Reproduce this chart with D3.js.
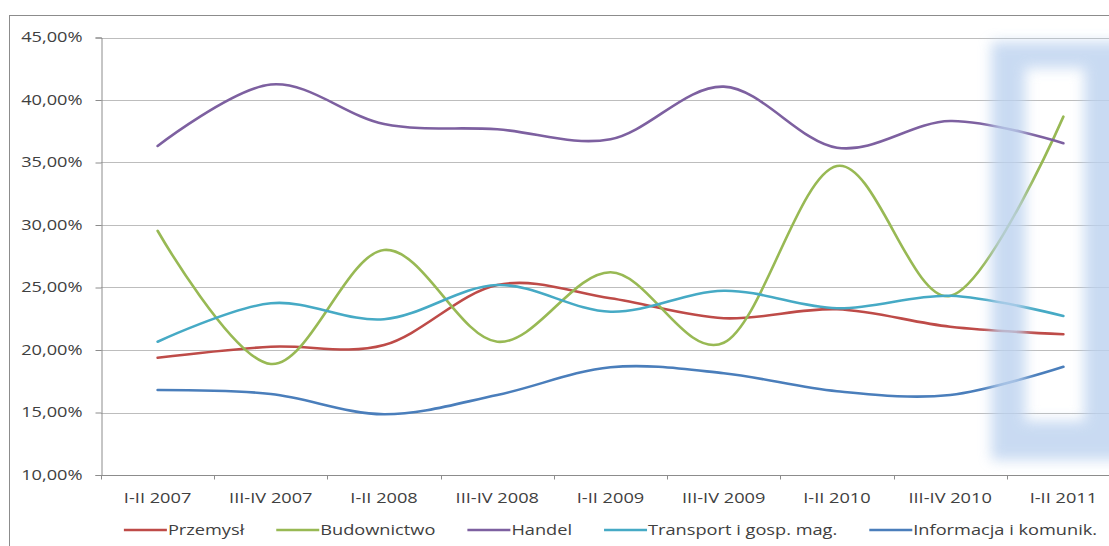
<!DOCTYPE html>
<html>
<head>
<meta charset="utf-8">
<script src="https://cdn.jsdelivr.net/npm/d3@7"></script>
<style>
  body { margin: 0; background: #fff; }
  svg { display: block; font-family: "Open Sans", sans-serif; }
</style>
</head>
<body>
<svg id="chart" width="1109" height="546"></svg>
<script>
// categories & series (values in %)
const categories = ["I-II 2007", "III-IV 2007", "I-II 2008", "III-IV 2008", "I-II 2009",
                    "III-IV 2009", "I-II 2010", "III-IV 2010", "I-II 2011"];
const przemysl    = [19.38, 20.26, 20.40, 25.20, 24.14, 22.54, 23.26, 21.86, 21.26];
const budownictwo = [29.54, 18.88, 28.00, 20.66, 26.22, 20.58, 34.72, 24.32, 38.67];
const handel      = [36.32, 41.24, 38.08, 37.66, 36.86, 41.07, 36.18, 38.32, 36.54];
const transport   = [20.66, 23.74, 22.46, 25.20, 23.06, 24.74, 23.34, 24.34, 22.72];
const informacja  = [16.80, 16.48, 14.86, 16.40, 18.62, 18.14, 16.70, 16.40, 18.66];
const seriesNames = ["Przemysł", "Budownictwo", "Handel", "Transport i gosp. mag.", "Informacja i komunik."];
const yTicks = [10, 15, 20, 25, 30, 35, 40, 45];

const colors = ["#be4b48", "#98b954", "#7d60a0", "#46aac5", "#4a7ebb"];
const series = [przemysl, budownictwo, handel, transport, informacja]
  .map((values, i) => ({ name: seriesNames[i], values: values, color: colors[i] }));

const STRETCH = 1.3; // text in the picture is drawn wide

const svg = d3.select("#chart");
const mLeft = 101, mRight = 1120, mTop = 37.5, mBottom = 475;

const x = d3.scalePoint().domain(categories).range([mLeft, mRight]).padding(0.5);
const y = d3.scaleLinear().domain([10, 45]).range([mBottom, mTop]);
const step = x.step();

function stretchText(sel) {
  sel.each(function () {
    const len = this.getComputedTextLength();
    d3.select(this).attr("textLength", len * STRETCH).attr("lengthAdjust", "spacingAndGlyphs")
      .attr("data-w", len * STRETCH);
  });
}

// chart frame
svg.append("rect")
  .attr("x", 9.5).attr("y", 15.5).attr("width", 1200).attr("height", 600)
  .attr("fill", "#fff").attr("stroke", "#8c8c8c");

// gridlines
svg.append("g")
  .selectAll("line")
  .data(yTicks.filter(d => d > 10))
  .join("line")
  .attr("x1", mLeft).attr("x2", mRight)
  .attr("y1", d => Math.round(y(d)) + 0.5).attr("y2", d => Math.round(y(d)) + 0.5)
  .attr("stroke", "#bdbdbd");

// y axis
const yAxis = svg.append("g")
  .attr("transform", `translate(${mLeft + 0.5},0)`)
  .call(d3.axisLeft(y).tickValues(yTicks).tickSize(6).tickPadding(13)
    .tickFormat(d => d.toFixed(2).replace(".", ",") + "%"));
yAxis.select(".domain").attr("stroke", "#8c8c8c");
yAxis.selectAll(".tick line").attr("stroke", "#8c8c8c");
yAxis.selectAll(".tick text")
  .attr("font-size", 14).attr("fill", "#404040")
  .attr("font-family", "Open Sans, sans-serif")
  .call(stretchText);

// x axis
const xg = svg.append("g").attr("transform", `translate(0,${mBottom + 0.5})`);
xg.append("line").attr("x1", mLeft).attr("x2", mRight).attr("stroke", "#8c8c8c");
xg.selectAll("line.tk")
  .data(categories.map(c => x(c) - step / 2).concat([x(categories[categories.length - 1]) + step / 2]))
  .join("line").attr("class", "tk")
  .attr("x1", d => Math.round(d) + 0.5).attr("x2", d => Math.round(d) + 0.5)
  .attr("y1", 0).attr("y2", 4).attr("stroke", "#8c8c8c");
xg.selectAll("text")
  .data(categories)
  .join("text")
  .attr("x", d => x(d)).attr("y", 27)
  .attr("text-anchor", "middle")
  .attr("font-size", 14).attr("fill", "#404040")
  .text(d => d)
  .call(stretchText);

// lines
const line = d3.line()
  .x((d, i) => x(categories[i]))
  .y(d => y(d))
  .curve(d3.curveCardinal.tension(0));

svg.append("g")
  .selectAll("path")
  .data(series)
  .join("path")
  .attr("d", d => line(d.values))
  .attr("fill", "none")
  .attr("stroke", d => d.color)
  .attr("stroke-width", 2.6)
  .attr("stroke-linecap", "round");

// blurred highlight frame on the last column
const defs = svg.append("defs");
defs.append("filter").attr("id", "blur")
  .attr("x", "-20%").attr("y", "-20%").attr("width", "140%").attr("height", "140%")
  .append("feGaussianBlur").attr("stdDeviation", 6.5);
const hx = x(categories[categories.length - 1]);
const outer = [hx - 72, 42, hx + 72, 460];
const inner = [hx - 38, 68, hx + 21, 421];
svg.append("path")
  .attr("d",
    `M${outer[0]},${outer[1]}H${outer[2]}V${outer[3]}H${outer[0]}Z` +
    `M${inner[0]},${inner[1]}V${inner[3]}H${inner[2]}V${inner[1]}Z`)
  .attr("fill", "#bcd2ef")
  .attr("fill-rule", "evenodd")
  .attr("opacity", 0.8)
  .attr("filter", "url(#blur)");

// legend
const legend = svg.append("g").attr("transform", "translate(0,530)");
const items = legend.selectAll("g")
  .data(series)
  .join("g");
items.append("line")
  .attr("x1", 0).attr("x2", 43)
  .attr("stroke", d => d.color).attr("stroke-width", 2.6);
items.append("text")
  .attr("x", 44).attr("y", 5)
  .attr("font-size", 14).attr("fill", "#404040")
  .text(d => d.name)
  .call(stretchText);

const widths = [];
items.each(function () {
  widths.push(44 + +d3.select(this).select("text").attr("data-w"));
});
const gap = 32;
const total = d3.sum(widths) + gap * (widths.length - 1);
let cx = (mLeft + mRight) / 2 - total / 2;
items.attr("transform", (d, i) => {
  const pos = cx;
  cx += widths[i] + gap;
  return `translate(${pos},0)`;
});
</script>
</body>
</html>
